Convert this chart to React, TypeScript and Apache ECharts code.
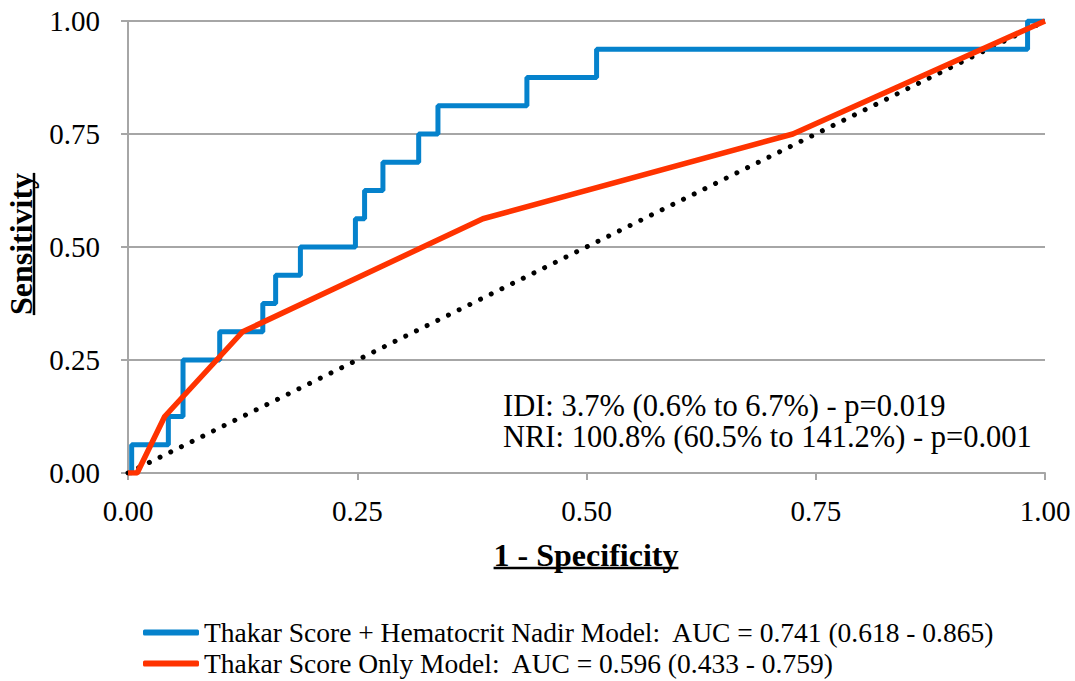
import React, { useEffect, useRef } from "react";
import * as echarts from "echarts";

const xTicks = [0, 0.25, 0.5, 0.75, 1];
const blueFpr = [0, 0.004, 0.044, 0.06, 0.1, 0.147, 0.161, 0.188, 0.248, 0.258, 0.278, 0.317, 0.338, 0.435, 0.511, 0.981, 1.0];
const blueTpr = [0, 0.0625, 0.125, 0.25, 0.3125, 0.375, 0.4375, 0.5, 0.5625, 0.625, 0.6875, 0.75, 0.8125, 0.875, 0.9375, 1.0, 1.0];
const redFpr = [0, 0.01, 0.04, 0.125, 0.387, 0.725, 1.0];
const redTpr = [0, 0, 0.125, 0.3125, 0.5625, 0.75, 1.0];
const refFpr = [0, 1];
const refTpr = [0, 1];
const seriesNames = [
  "Thakar Score + Hematocrit Nadir Model:  AUC = 0.741 (0.618 - 0.865)",
  "Thakar Score Only Model:  AUC = 0.596 (0.433 - 0.759)",
];
const annotations = ["IDI: 3.7% (0.6% to 6.7%) - p=0.019", "NRI: 100.8% (60.5% to 141.2%) - p=0.001"];
const xTitle = "1 - Specificity";
const yTitle = "Sensitivity";

const SERIF = "'Liberation Serif', 'DejaVu Serif', serif";

function measure(text: string, font: string): number {
  const c = document.createElement("canvas");
  const ctx = c.getContext("2d")!;
  ctx.font = font;
  return ctx.measureText(text).width;
}

export default function App() {
  const ref = useRef<HTMLDivElement>(null);
  useEffect(() => {
    const chart = echarts.init(ref.current!, null, { renderer: "svg" });
    const titleFont = `bold 32px ${SERIF}`;
    const xtW = measure(xTitle, titleFont);
    const ytW = measure(yTitle, titleFont);
    const xtCx = 586;
    const xtBottom = 571;
    const ytCy = 244;
    const ytBottomX = 37;
    const annFont = `30.5px ${SERIF}`;
    chart.setOption({
      animation: false,
      grid: { left: 128, right: 30, top: 21, bottom: 208, containLabel: false },
      xAxis: {
        type: "value",
        min: 0,
        max: 1,
        interval: 0.25,
        axisLine: { show: true, lineStyle: { color: "#a6a6a6", width: 2 } },
        axisTick: { show: true, length: 7, lineStyle: { color: "#a6a6a6", width: 2 } },
        splitLine: { show: false },
        axisLabel: {
          formatter: (v: number) => v.toFixed(2),
          fontFamily: SERIF,
          fontSize: 29,
          color: "#000",
          margin: 23,
        },
      },
      yAxis: {
        type: "value",
        min: 0,
        max: 1,
        interval: 0.25,
        axisLine: { show: true, lineStyle: { color: "#a6a6a6", width: 2 } },
        axisTick: { show: true, length: 7, lineStyle: { color: "#a6a6a6", width: 2 } },
        splitLine: { show: true, lineStyle: { color: "#a6a6a6", width: 2 } },
        axisLabel: {
          formatter: (v: number) => v.toFixed(2),
          fontFamily: SERIF,
          fontSize: 29,
          color: "#000",
          margin: 28,
        },
      },
      legend: {
        orient: "vertical",
        left: 143,
        top: 617,
        padding: 0,
        itemWidth: 56,
        itemHeight: 6,
        itemGap: 0,
        icon: "roundRect",
        data: seriesNames,
        textStyle: { fontFamily: SERIF, fontSize: 27.5, color: "#000", lineHeight: 31 },
      },
      graphic: [
        {
          type: "text",
          x: 503,
          y: 406,
          style: { text: annotations[0], font: annFont, fill: "#000", textVerticalAlign: "middle" },
        },
        {
          type: "text",
          x: 503,
          y: 437,
          style: { text: annotations[1], font: annFont, fill: "#000", textVerticalAlign: "middle" },
        },
        {
          type: "text",
          x: xtCx,
          y: xtBottom,
          style: { text: xTitle, font: titleFont, fill: "#000", textAlign: "center", textVerticalAlign: "bottom" },
        },
        {
          type: "line",
          shape: { x1: xtCx - xtW / 2, y1: 568, x2: xtCx + xtW / 2, y2: 568 },
          style: { stroke: "#000", lineWidth: 2.5 },
        },
        {
          type: "text",
          x: ytBottomX,
          y: ytCy,
          rotation: Math.PI / 2,
          style: { text: yTitle, font: titleFont, fill: "#000", textAlign: "center", textVerticalAlign: "bottom" },
        },
        {
          type: "line",
          shape: { x1: 34, y1: ytCy - ytW / 2, x2: 34, y2: ytCy + ytW / 2 },
          style: { stroke: "#000", lineWidth: 2.5 },
        },
      ],
      series: [
        {
          name: "ref",
          type: "line",
          data: refFpr.map((x, i) => [x, refTpr[i]]),
          symbol: "none",
          lineStyle: { color: "#000", width: 5, type: [0.01, 11.9], cap: "round" },
          z: 1,
        },
        {
          name: seriesNames[0],
          type: "line",
          step: "end",
          data: blueFpr.map((x, i) => [x, blueTpr[i]]),
          symbol: "none",
          color: "#0582cc",
          lineStyle: { color: "#0582cc", width: 5 },
          z: 2,
        },
        {
          name: seriesNames[1],
          type: "line",
          data: redFpr.map((x, i) => [x, redTpr[i]]),
          symbol: "none",
          color: "#ff3300",
          lineStyle: { color: "#ff3300", width: 5.5 },
          z: 3,
        },
      ],
    });
    return () => chart.dispose();
  }, []);
  return (
    <div
      ref={ref}
      style={{ position: "fixed", left: 0, top: 0, width: 1075, height: 681, background: "#fff" }}
    />
  );
}
